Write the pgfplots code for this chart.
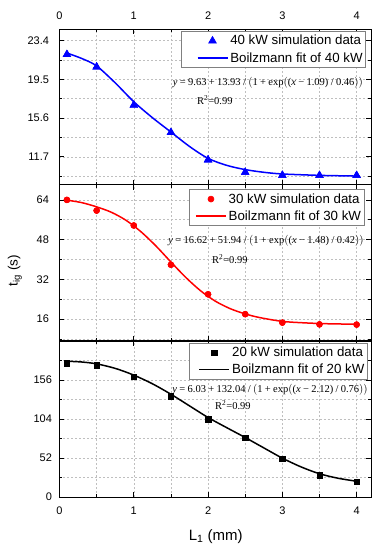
\documentclass[border=0pt]{standalone}
\usepackage{fontspec}
\setmainfont{Liberation Sans}
\newfontfamily\tnr{Liberation Serif}
\usepackage{pgfplots}
\pgfplotsset{compat=1.18}
\tikzset{eq/.style={font=\tnr\fontsize{10.5}{12}\selectfont, inner sep=0pt}}
\begin{document}
\begin{tikzpicture}
\pgfplotsset{
 panel/.style={
  scale only axis, width=312pt, height=156pt,
  xmin=0, xmax=4.2,
  xtick={0,1,2,3,4}, minor xtick={0.5,1.5,2.5,3.5},
  xtick pos=both, ytick pos=both,
  grid=both,
  major grid style={dash pattern=on 2pt off 2pt, gray!50, line width=0.55pt},
  minor grid style={dash pattern=on 2pt off 2pt, gray!50, line width=0.55pt},
  tick align=inside,
  major tick length=5pt, minor tick length=3pt,
  every tick/.style={black, line width=0.8pt},
  axis line style={black, line width=1pt},
  tick label style={font=\fontsize{11}{13}\selectfont},
  /pgf/number format/assume math mode=true,
  legend style={font=\fontsize{13.3}{15}\selectfont, draw=gray, line width=0.6pt,
     anchor=north east, inner sep=1pt, nodes={inner ysep=3pt, inner xsep=2pt}},
  legend cell align=left,
 },
 legpad/.style={legend image code/.code={\path (-#1,0pt); \draw[mark repeat=2,mark phase=2,##1] plot coordinates {(0pt,0pt)(15pt,0pt)(30pt,0pt)};}},
}
\path[use as bounding box] (-59.5pt,-53pt) rectangle (320.5pt,497pt);

% ---------- top panel: 40 kW ----------
\begin{axis}[panel, at={(0pt,312pt)}, anchor=south west,
  ymin=8.87, ymax=24.57,
  ytick={11.7,15.6,19.5,23.4}, minor ytick={9.75,13.65,17.55,21.45},
  xticklabel pos=top,
  xticklabel style={yshift=6pt},
  yticklabel style={xshift=-7pt},
  legpad=14pt,
  legend style={at={(0.982,0.987)}},
]
\addplot[only marks, mark=triangle*, mark size=4.5pt, blue] coordinates {
(0.1,22.0)(0.5,20.75)(1,16.9)(1.5,14.15)(2,11.4)(2.5,10.15)(3,9.85)(3.5,9.83)(4,9.83)};
\addlegendentry{40 kW simulation data}
\addplot[blue, line width=1.5pt, smooth, no marks] coordinates {
(0.1,22.15)(0.3,21.6)(0.5,20.85)(0.75,19.15)(1,17.25)(1.25,15.65)(1.5,14.2)(1.75,12.75)
(2,11.55)(2.25,10.85)(2.5,10.42)(2.75,10.15)(3,9.98)(3.5,9.84)(4,9.77)};
\addlegendentry{Boilzmann fit of 40 kW}
\addplot[only marks, mark=triangle*, mark size=4.5pt, blue, forget plot] coordinates {
(0.1,22.0)(0.5,20.75)(1,16.9)(1.5,14.15)(2,11.4)(2.5,10.15)(3,9.85)(3.5,9.83)(4,9.83)};
\node[eq] at (axis description cs:0.668,0.656)
 {\textit{y}\:=\:9.63\:+\:13.93\:/\:$\bigl($1\:+\:exp$\bigl($(\textit{x}\:−\:1.09)\:/\:0.46$\bigr)\bigr)$};
\node[eq] at (axis description cs:0.498,0.543)
 {R\textsuperscript{2}=0.99};
\end{axis}

% ---------- middle panel: 30 kW ----------
\begin{axis}[panel, at={(0pt,156pt)}, anchor=south west,
  ymin=7.2, ymax=70,
  ytick={16,32,48,64}, minor ytick={8,24,40,56},
  xticklabel=\empty,
  yticklabel style={xshift=-7pt},
  ylabel={t\textsubscript{ig} (s)},
  ylabel style={font=\fontsize{13.5}{15}\selectfont, at={(axis description cs:-0.143,0.45)}, anchor=center},
  legpad=5pt,
  legend style={at={(0.977,0.973)}},
]
\addplot[only marks, mark=*, mark size=3pt, red] coordinates {
(0.1,64.0)(0.5,59.7)(1,53.7)(1.5,37.9)(2,26.0)(2.5,18.0)(3,14.6)(3.5,13.9)(4,13.8)};
\addlegendentry{30 kW simulation data}
\addplot[red, line width=1.5pt, smooth, no marks] coordinates {
(0.1,63.9)(0.3,62.9)(0.5,61.2)(0.7,59.0)(0.9,55.7)(1.1,51.1)(1.3,45.4)(1.5,39.0)
(1.7,32.8)(1.9,27.4)(2.1,23.2)(2.3,20.2)(2.5,18.1)(2.7,16.6)(3.0,15.1)(3.3,14.5)(3.6,14.15)(4.0,13.95)};
\addlegendentry{Boilzmann fit of 30 kW}
\addplot[only marks, mark=*, mark size=3pt, red, forget plot] coordinates {
(0.1,64.0)(0.5,59.7)(1,53.7)(1.5,37.9)(2,26.0)(2.5,18.0)(3,14.6)(3.5,13.9)(4,13.8)};
\node[eq] at (axis description cs:0.662,0.643)
 {\textit{y}\:=\:16.62\:+\:51.94\:/\:$\bigl($1\:+\:exp$\bigl($(\textit{x}\:−\:1.48)\:/\:0.42$\bigr)\bigr)$};
\node[eq] at (axis description cs:0.546,0.522)
 {R\textsuperscript{2}=0.99};
\end{axis}

% ---------- bottom panel: 20 kW ----------
\begin{axis}[panel, at={(0pt,0pt)}, anchor=south west,
  ymin=0, ymax=208,
  ytick={0,52,104,156}, minor ytick={26,78,130,182},
  xticklabel style={yshift=-6pt},
  yticklabel style={xshift=-4pt},
  xlabel={L\textsubscript{1} (mm)},
  xlabel style={font=\fontsize{15}{17}\selectfont, at={(axis description cs:0.501,-0.254)}, anchor=center},
  legpad=8pt,
  legend style={at={(0.988,0.989)}},
]
\addplot[only marks, mark=square*, mark size=2.7pt, black] coordinates {
(0.1,178.3)(0.5,175.6)(1,160.4)(1.5,134.2)(2,104)(2.5,78.7)(3,50.7)(3.5,29.3)(4,20.4)};
\addlegendentry{20 kW simulation data}
\addplot[black, line width=1.5pt, smooth, no marks] coordinates {
(0.1,181)(0.3,180)(0.5,177.5)(0.75,171.5)(1,162.5)(1.25,151)(1.5,137)(1.75,121.5)
(2,106)(2.25,92.5)(2.5,79.3)(2.75,65.5)(3,51.8)(3.25,40.2)(3.5,31)(3.75,25)(4,21)};
\addlegendentry{Boilzmann fit of 20 kW}
\addplot[only marks, mark=square*, mark size=2.7pt, black, forget plot] coordinates {
(0.1,178.3)(0.5,175.6)(1,160.4)(1.5,134.2)(2,104)(2.5,78.7)(3,50.7)(3.5,29.3)(4,20.4)};
\node[eq] at (axis description cs:0.675,0.69)
 {\textit{y}\:=\:6.03\:+\:132.04\:/\:$\bigl($1\:+\:exp$\bigl($(\textit{x}\:−\:2.12)\:/\:0.76$\bigr)\bigr)$};
\node[eq] at (axis description cs:0.556,0.59)
 {R\textsuperscript{2}=0.99};
\end{axis}
\end{tikzpicture}
\end{document}
